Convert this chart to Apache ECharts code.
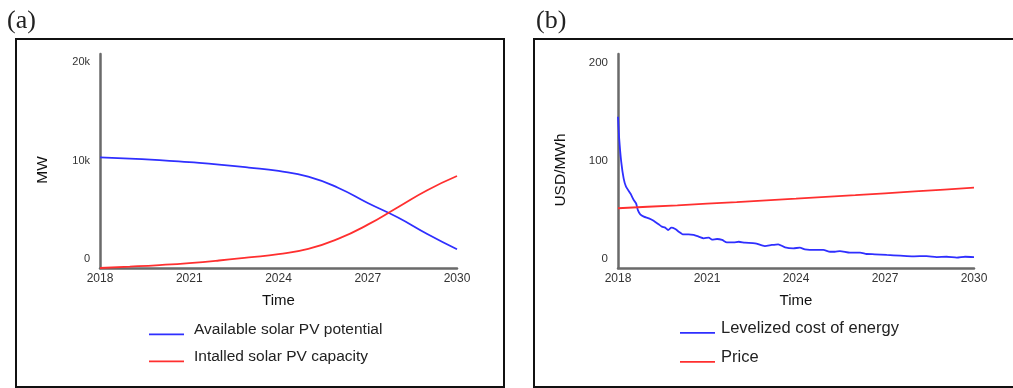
<!DOCTYPE html>
<html><head><meta charset="utf-8">
<script src="https://cdn.jsdelivr.net/npm/echarts@6/dist/echarts.min.js"></script>
<style>html,body{margin:0;padding:0;background:#fff}#c{width:1013px;height:388px}</style>
</head><body><div id="c"></div>
<script>
// ---------- data ----------
const yearsA = [2018,2019,2020,2021,2022,2023,2024,2025,2026,2027,2028,2029,2030];
const availablePotential = [11240,11100,10960,10740,10500,10200,9850,9280,8150,6600,5150,3450,1900];
const installedCapacity = [0,140,300,500,760,1070,1400,1930,2950,4400,6150,7900,9340];
const xTickLabels = ['2018','2021','2024','2027','2030'];
const mwTickLabels = ['0','10k','20k'];

const lcoeYears = [2018.00,2018.04,2018.11,2018.19,2018.27,2018.42,2018.53,2018.61,2018.67,2018.75,2018.87,
  2019.04,2019.20,2019.37,2019.48,2019.59,2019.69,2019.80,2019.93,2020.05,2020.18,2020.38,2020.55,2020.72,
  2020.89,2021.06,2021.17,2021.34,2021.51,2021.67,2021.90,2022.07,2022.28,2022.62,2022.95,2023.18,2023.40,
  2023.63,2023.91,2024.13,2024.30,2024.64,2024.92,2025.15,2025.31,2025.48,2025.82,2026.16,2026.38,2026.66,
  2027.06,2027.51,2027.95,2028.40,2028.74,2029.08,2029.42,2029.70,2030.00];
const lcoeValues = [154.4,132,108,91.5,83,76,69.4,66,59,54.8,52.4,
  50.7,48.3,44.6,42.2,41.2,38.8,41.2,39.8,37,34.4,34.4,33.7,32,
  30.3,31,28.9,29.6,28.6,26.2,26.2,26.8,25.8,25.2,22.4,23.5,24.2,
  21.1,20.1,20.7,19.1,18.4,18.4,16.6,16.6,17.3,15.6,15.6,14.3,14,
  13.3,12.6,11.9,12.2,11.2,11.5,10.5,11.5,11.2];
const priceYears = [2018,2019,2020,2021,2022,2023,2024,2025,2026,2027,2028,2029,2030];
const priceValues = [61,62.5,64,65.7,67.3,69,70.7,72.5,74.3,76.2,78.1,80,82];
const usdTickLabels = ['0','100','200'];

// ---------- build ----------
const base = 2018;
const pairs = (xs, ys) => xs.map((x, i) => [x - base, ys[i]]);
const FONT = '"Liberation Sans", Arial, sans-serif';
const BLUE = '#2f2fff', RED = '#ff2f2f';
const legendIcon = 'path://M0,0L0.01,0L0.01,0.01Z M0,14L0.01,14L0.01,13.99Z M0,10.6L35,10.6L35,12.2L0,12.2Z';

function xAxis(gi) {
  return {
    type: 'value', gridIndex: gi, min: 0, max: 12, interval: 3,
    name: 'Time', nameLocation: 'middle', nameGap: 25,
    nameTextStyle: { fontFamily: FONT, fontSize: 15, color: '#111' },
    axisLine: { lineStyle: { color: '#6a6a6a', width: 2.5 } },
    axisTick: { show: false }, splitLine: { show: false },
    axisLabel: { margin: 5, fontFamily: FONT, fontSize: 12, color: '#333',
      formatter: v => xTickLabels[Math.round(v / 3)] || '' }
  };
}
function yAxis(gi, name, max, step, labels, fs) {
  return {
    type: 'value', gridIndex: gi, min: 0, max: max, interval: step,
    name: name, nameLocation: 'middle', nameGap: 49, nameRotate: 90,
    nameTextStyle: { fontFamily: FONT, fontSize: 15.5, color: '#111', padding: [0, 18, 0, 0] },
    axisLine: { show: true, lineStyle: { color: '#6a6a6a', width: 2.5 } },
    axisTick: { show: false }, splitLine: { show: false },
    axisLabel: { margin: 10, fontFamily: FONT, fontSize: fs, color: '#333',
      verticalAlign: 'bottom', lineHeight: 12, padding: [0, 0, 3, 0],
      showMaxLabel: false,
      formatter: v => (Math.abs(v / step - Math.round(v / step)) < 1e-6 ? (labels[Math.round(v / step)] || '') : '') }
  };
}

const chart = echarts.init(document.getElementById('c'), null, { renderer: 'canvas' });
chart.setOption({
  animation: false,
  backgroundColor: '#fff',
  grid: [
    { left: 100, top: 54, width: 357, height: 214 },
    { left: 618, top: 54, width: 356, height: 214 }
  ],
  xAxis: [xAxis(0), xAxis(1)],
  yAxis: [
    yAxis(0, 'MW', 21726, 10000, mwTickLabels, 11),
    yAxis(1, 'USD/MWh', 218.4, 100, usdTickLabels, 11.5)
  ],
  legend: [
    { data: ['Available solar PV potential', 'Intalled solar PV capacity'],
      orient: 'vertical', left: 144, top: 317, itemWidth: 35, itemHeight: 14, itemGap: 11,
      icon: legendIcon, itemStyle: { borderWidth: 0 },
      textStyle: { fontFamily: FONT, fontSize: 15.5, color: '#222', lineHeight: 14, padding: [0, 0, 0, 5] } },
    { data: ['Levelized cost of energy', 'Price'],
      orient: 'vertical', left: 675, top: 315, itemWidth: 35, itemHeight: 14, itemGap: 12,
      icon: legendIcon, itemStyle: { borderWidth: 0 },
      textStyle: { fontFamily: FONT, fontSize: 16.5, color: '#222', lineHeight: 14, padding: [0, 0, 0, 1] } }
  ],
  series: [
    { name: 'Available solar PV potential', type: 'line', xAxisIndex: 0, yAxisIndex: 0,
      data: pairs(yearsA, availablePotential), smooth: 0.5, showSymbol: false, color: BLUE,
      lineStyle: { color: BLUE, width: 1.8 } },
    { name: 'Intalled solar PV capacity', type: 'line', xAxisIndex: 0, yAxisIndex: 0,
      data: pairs(yearsA, installedCapacity), smooth: 0.5, showSymbol: false, color: RED,
      lineStyle: { color: RED, width: 1.8 } },
    { name: 'Levelized cost of energy', type: 'line', xAxisIndex: 1, yAxisIndex: 1,
      data: pairs(lcoeYears, lcoeValues), smooth: 0.2, showSymbol: false, color: BLUE,
      lineStyle: { color: BLUE, width: 1.8 } },
    { name: 'Price', type: 'line', xAxisIndex: 1, yAxisIndex: 1,
      data: pairs(priceYears, priceValues), smooth: false, showSymbol: false, color: RED,
      lineStyle: { color: RED, width: 1.8 } }
  ],
  graphic: [
    { type: 'rect', shape: { x: 16, y: 39, width: 488, height: 348 }, style: { fill: 'none', stroke: '#111', lineWidth: 2 } },
    { type: 'rect', shape: { x: 534, y: 39, width: 481, height: 348 }, style: { fill: 'none', stroke: '#111', lineWidth: 2 } },
    { type: 'text', x: 7, y: 21, style: { text: '(a)', font: '26px "Liberation Serif", "Times New Roman", serif', fill: '#222', verticalAlign: 'middle' } },
    { type: 'text', x: 536, y: 21, style: { text: '(b)', font: '26px "Liberation Serif", "Times New Roman", serif', fill: '#222', verticalAlign: 'middle' } }
  ]
});
</script></body></html>
